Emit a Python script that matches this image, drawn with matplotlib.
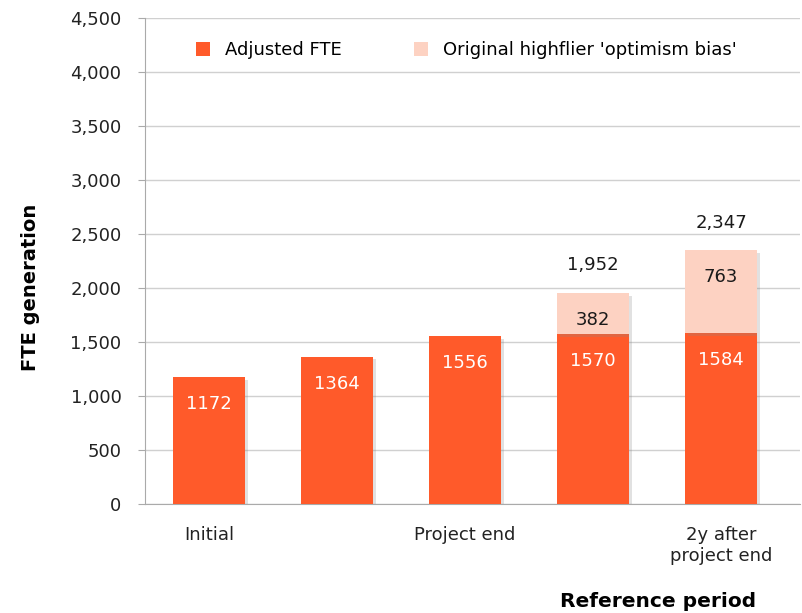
import numpy as np
import matplotlib
matplotlib.use("Agg")
import matplotlib.pyplot as plt
import matplotlib.patheffects as pe

plt.rcParams['font.family'] = ['DejaVu Sans']

# data
periods = ['Initial', '', 'Project end', '', '2y after\nproject end']
adjusted = [1172, 1364, 1556, 1570, 1584]
bias = [0, 0, 0, 382, 763]
totals = [None, None, None, '1,952', '2,347']

c_adj = '#FF5A2A'
c_bias = '#FDD2C2'

fig = plt.figure(figsize=(8.02, 6.13), dpi=100)
ax = fig.add_axes([0.181, 0.178, 0.817, 0.793])

x = np.arange(len(adjusted))
w = 0.56

b1 = ax.bar(x, adjusted, width=w, color=c_adj, label='Adjusted FTE', zorder=3)
b2 = ax.bar(x[3:], bias[3:], bottom=adjusted[3:], width=w, color=c_bias,
            label="Original highflier 'optimism bias'", zorder=3)

for i in range(len(adjusted)):
    ax.annotate(str(adjusted[i]), (x[i], adjusted[i]), xytext=(0, -19.5), textcoords='offset points',
                ha='center', va='center', color='white', fontsize=13, zorder=5)
    if bias[i]:
        ax.annotate(str(bias[i]), (x[i], adjusted[i] + bias[i]), xytext=(0, -19.5), textcoords='offset points',
                    ha='center', va='center', color='#1a1a1a', fontsize=13, zorder=5)
        ax.annotate(totals[i], (x[i], adjusted[i] + bias[i]), xytext=(0, 20), textcoords='offset points',
                    ha='center', va='center', color='#1a1a1a', fontsize=13, zorder=5)

ax.set_xlim(-0.5, 4.62)
ax.set_ylim(0, 4500)
ax.set_yticks(np.arange(0, 4501, 500))
ax.yaxis.set_major_formatter(matplotlib.ticker.StrMethodFormatter('{x:,.0f}'))
ax.set_xticks(x)
ax.set_xticklabels(periods, fontsize=13, color='#222222')
ax.tick_params(axis='y', labelsize=13, colors='#222222', length=5, color='#aaaaaa', pad=12)
ax.tick_params(axis='x', length=0, pad=16)
ax.grid(axis='y', color='#d0d0d0', lw=1, zorder=0)
for s in ['top', 'right']:
    ax.spines[s].set_visible(False)
ax.spines['left'].set_color('#aaaaaa')
ax.spines['bottom'].set_color('#aaaaaa')

ax.set_ylabel('FTE generation', fontsize=14, fontweight='bold')
ax.yaxis.set_label_coords(-0.16, 0.445)
fig.text(0.82, 0.01, 'Reference period', fontsize=14.5, fontweight='bold', ha='center')

leg = ax.legend(loc='upper center', bbox_to_anchor=(0.49, 0.985), ncol=2, frameon=True, fontsize=13,
                handlelength=0.8, handleheight=0.8, columnspacing=4, edgecolor='none', framealpha=1)
leg.set_zorder(6)

# light drop shadow on the bars only (not the legend handles)
shadow = [pe.SimplePatchShadow(offset=(2, -2), alpha=0.25, shadow_rgbFace='#888888'), pe.Normal()]
for p in list(b1) + list(b2):
    p.set_path_effects(shadow)

fig.savefig('out.png', dpi=100)
